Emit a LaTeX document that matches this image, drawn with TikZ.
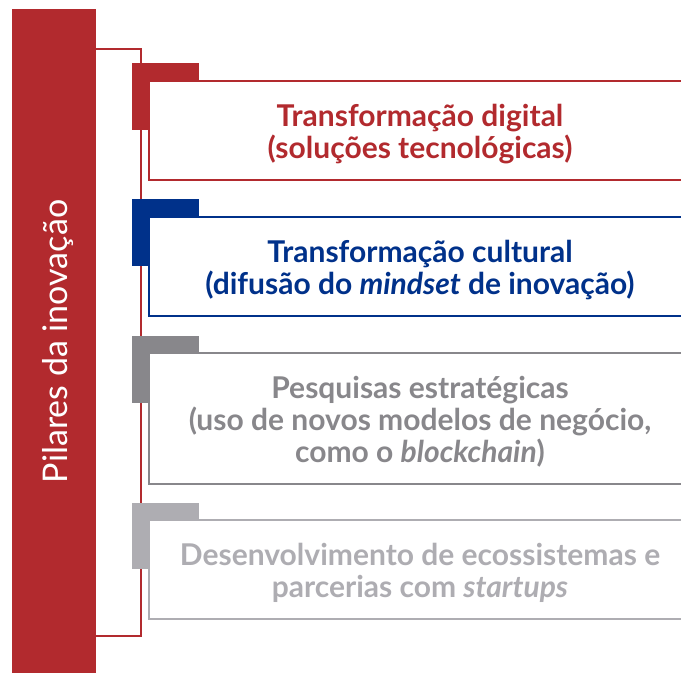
\documentclass[tikz,border=0pt]{standalone}
\usepackage{fontspec}
\setmainfont{Lato}
\definecolor{cred}{HTML}{B22A2E}
\definecolor{cblue}{HTML}{00318A}
\definecolor{cgray}{HTML}{88878B}
\definecolor{clgray}{HTML}{AEADB2}
\begin{document}
\begin{tikzpicture}[x=1pt,y=-1pt,
  pillarbox/.style={line width=2.2pt},
  pillartext/.style={font=\fontsize{30}{32}\selectfont\bfseries, align=center, anchor=center, inner sep=0pt},
]
\useasboundingbox (0,0) rectangle (681,673);
% left bar
\fill[cred] (12,9) rectangle (96,673);
\node[rotate=90, text=white, anchor=base, inner sep=0pt, font=\fontsize{34}{38}\selectfont] (title) at (67,341.5) {Pilares da inovação};
% bracket
\draw[cred, line width=2pt] (96,49) -- (140.5,49) -- (140.5,636) -- (96,636);
% box 1
\fill[cred] (132,63) rectangle (199,130);
\fill[white] (149,81) rectangle (681,180);
\draw[cred, pillarbox] (681,81) -- (149,81) -- (149,180) -- (681,180);
\node[pillartext, text=cred] (b1) at (420,134) {Transformação digital\\(soluções tecnológicas)};
% box 2
\fill[cblue] (132,199) rectangle (199,266);
\fill[white] (149,217) rectangle (681,316);
\draw[cblue, pillarbox] (681,217) -- (149,217) -- (149,316) -- (681,316);
\node[pillartext, text=cblue] (b2) at (420,270) {Transformação cultural\\(difusão do \textit{mindset} de inovação)};
% box 3
\fill[cgray] (132,336) rectangle (199,403);
\fill[white] (149,353) rectangle (681,484);
\draw[cgray, pillarbox] (681,353) -- (149,353) -- (149,484) -- (681,484);
\node[pillartext, text=cgray] (b3) at (420,422) {Pesquisas estratégicas\\(uso de novos modelos de negócio,\\como o \textit{blockchain})};
% box 4
\fill[clgray] (132,503) rectangle (199,569);
\fill[white] (149,520) rectangle (681,619);
\draw[clgray, pillarbox] (681,520) -- (149,520) -- (149,619) -- (681,619);
\node[pillartext, text=clgray] (b4) at (420,573) {Desenvolvimento de ecossistemas e\\parcerias com \textit{startups}};
\end{tikzpicture}
\end{document}
